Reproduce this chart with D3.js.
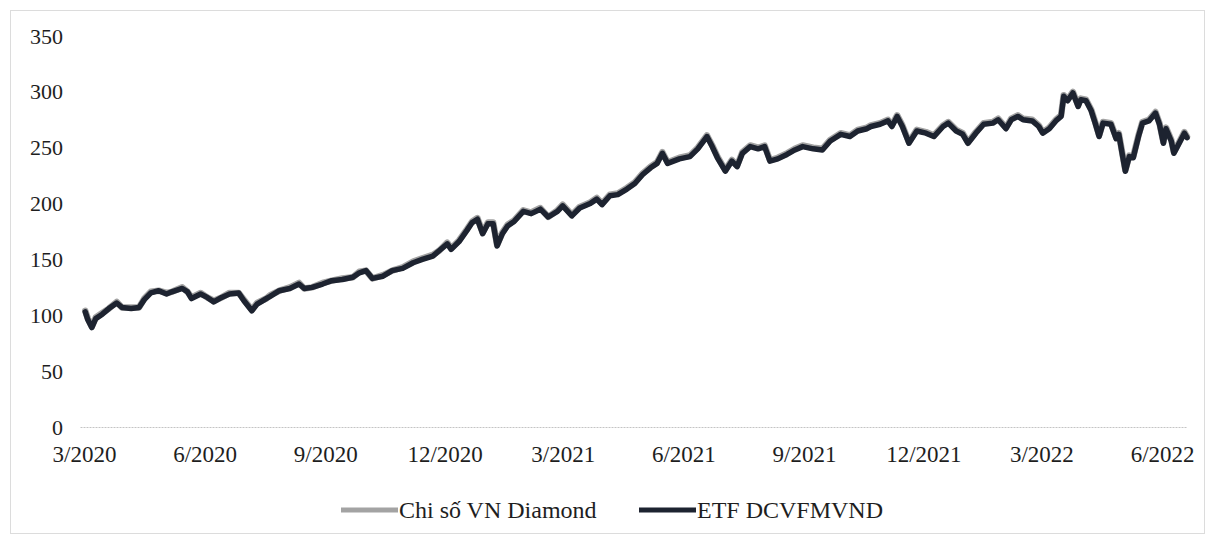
<!DOCTYPE html>
<html>
<head>
<meta charset="utf-8">
<script src="https://cdn.jsdelivr.net/npm/d3@7"></script>
<style>
  body { margin: 0; background: #fff; }
  text { font-family: "Liberation Serif", "Times New Roman", serif; fill: #1e1e1e; }
</style>
</head>
<body>
<div id="chart"></div>
<script>
var dates = ["2020-03-02","2020-03-04","2020-03-07","2020-03-10","2020-03-15","2020-03-20","2020-03-26","2020-03-30",
  "2020-04-06","2020-04-12","2020-04-16","2020-04-21","2020-04-27","2020-05-03","2020-05-07","2020-05-15","2020-05-19",
  "2020-05-22","2020-05-29","2020-06-03","2020-06-08","2020-06-14","2020-06-20","2020-06-27","2020-07-01","2020-07-07",
  "2020-07-11","2020-07-18","2020-07-21","2020-07-28","2020-08-05","2020-08-12","2020-08-16","2020-08-22","2020-08-30",
  "2020-09-06","2020-09-14","2020-09-22","2020-09-27","2020-10-02","2020-10-07","2020-10-15","2020-10-22","2020-10-30",
  "2020-11-07","2020-11-14","2020-11-22","2020-11-27","2020-12-03","2020-12-06","2020-12-12","2020-12-18","2020-12-22",
  "2020-12-26","2020-12-30","2021-01-03","2021-01-07","2021-01-10","2021-01-14","2021-01-18","2021-01-23","2021-01-30",
  "2021-02-05","2021-02-12","2021-02-18","2021-02-25","2021-03-01","2021-03-08","2021-03-14","2021-03-22","2021-03-27",
  "2021-03-31","2021-04-06","2021-04-12","2021-04-19","2021-04-25","2021-05-01","2021-05-07","2021-05-12","2021-05-16",
  "2021-05-20","2021-05-29","2021-06-06","2021-06-12","2021-06-19","2021-06-23","2021-06-27","2021-07-03","2021-07-08",
  "2021-07-12","2021-07-16","2021-07-22","2021-07-28","2021-08-02","2021-08-06","2021-08-12","2021-08-19","2021-08-25",
  "2021-08-31","2021-09-08","2021-09-15","2021-09-21","2021-09-29","2021-10-06","2021-10-12","2021-10-19","2021-10-22",
  "2021-10-29","2021-11-04","2021-11-07","2021-11-11","2021-11-15","2021-11-20","2021-11-26","2021-12-03","2021-12-09",
  "2021-12-16","2021-12-20","2021-12-26","2021-12-31","2022-01-04","2022-01-10","2022-01-16","2022-01-23","2022-01-27",
  "2022-02-02","2022-02-06","2022-02-11","2022-02-15","2022-02-22","2022-02-27","2022-03-02","2022-03-07","2022-03-12",
  "2022-03-16","2022-03-18","2022-03-21","2022-03-25","2022-03-29","2022-03-31","2022-04-04","2022-04-08","2022-04-11",
  "2022-04-14","2022-04-17","2022-04-23","2022-04-27","2022-04-29","2022-05-02","2022-05-04","2022-05-07","2022-05-10",
  "2022-05-14","2022-05-17","2022-05-22","2022-05-27","2022-05-30","2022-06-02","2022-06-04","2022-06-08","2022-06-10",
  "2022-06-14","2022-06-18","2022-06-20"];

// Chi so VN Diamond (grey)
var indexValues = [104,97,90,98,102,106,112,107, 107,107,115,121,122,120,121,125,121,
  116,120,116,113,116,120,120,114,105, 111,115,118,122,125,129,124,125,129,
  131,133,134,139,140,133,136,140,143, 148,151,154,158,165,160,167,177,184,
  187,174,183,183,163,174,181,185,194, 192,196,188,194,199,190,197,201,205,
  200,208,209,214,219,227,233,237,246, 237,241,243,250,261,252,242,230,239,
  234,246,252,250,252,239,241,245,249, 252,250,249,257,263,261,266,268,270,
  272,275,270,279,270,255,266,264,261, 270,273,266,263,255,264,272,273,276,
  268,276,279,276,275,270,264,268,275, 279,297,293,300,288,294,293,284,273,
  261,273,272,259,263,243,230,243,242, 261,273,275,282,272,255,268,257,246,
  255,264,260];

// ETF DCVFMVND (dark)
var etfValues = [103,96,89,97,101,106,111,107, 106,107,114,120,122,119,121,124,121,
  115,119,116,112,116,119,120,113,104, 110,115,117,122,124,128,124,125,128,
  131,132,134,138,140,133,135,140,142, 147,150,153,158,164,159,166,176,183,
  186,173,182,182,162,173,180,184,193, 191,195,188,193,198,189,196,200,204,
  199,207,208,213,218,226,232,236,245, 236,240,242,249,260,251,241,229,238,
  233,245,251,249,251,238,240,244,248, 251,249,248,256,262,260,265,267,269,
  271,274,269,278,269,254,265,263,260, 269,272,265,262,254,263,271,272,275,
  267,275,278,275,274,269,263,267,274, 278,296,292,299,287,293,292,283,272,
  260,272,271,258,262,242,229,242,241, 260,272,274,281,271,254,267,256,245,
  254,263,259];

var yTicks = [0, 50, 100, 150, 200, 250, 300, 350];
var xTickDates = ["2020-03-01","2020-06-01","2020-09-01","2020-12-01","2021-03-01",
  "2021-06-01","2021-09-01","2021-12-01","2022-03-01","2022-06-01"];
var seriesNames = ["Chi số VN Diamond", "ETF DCVFMVND"];
var seriesColors = ["#a3a3a3", "#1d2330"];

var width = 1213, height = 546;
var svg;

function init() {
    svg = d3.select("#chart")
        .append("svg")
        .attr("width", width)
        .attr("height", height);

    // light scan frame
    svg.append("rect")
        .attr("x", 10.5).attr("y", 10.5)
        .attr("width", 1194).attr("height", 523)
        .attr("fill", "none")
        .attr("stroke", "#dcdcdc")
        .attr("stroke-width", 1);

    drawChart();
}

function drawChart() {
    var parse = d3.timeParse("%Y-%m-%d");

    var xScale = d3.scaleTime()
        .domain([parse("2020-02-27"), parse("2022-06-20")])
        .range([80, 1187]);

    var yScale = d3.scaleLinear()
        .domain([0, 350])
        .range([427, 36]);

    // y axis labels
    var yAxis = svg.append("g")
        .attr("transform", "translate(63,0)")
        .call(d3.axisLeft(yScale).tickValues(yTicks).tickSize(0).tickPadding(0));
    yAxis.select(".domain").remove();
    yAxis.selectAll("text")
        .attr("font-size", "22px")
        .style("font-family", "Liberation Serif, serif")
        .attr("fill", "#1e1e1e");

    // x axis: dotted baseline + month labels
    var xAxis = svg.append("g")
        .attr("transform", "translate(0," + yScale(0) + ")")
        .call(d3.axisBottom(xScale)
            .tickValues(xTickDates.map(parse))
            .tickSize(0)
            .tickPadding(19)
            .tickFormat(d3.timeFormat("%-m/%Y")));
    xAxis.select(".domain")
        .attr("stroke", "#c4c4c4")
        .attr("stroke-width", 1.2)
        .attr("stroke-dasharray", "2,1");
    xAxis.selectAll("text")
        .attr("font-size", "23px")
        .attr("dy", "0.71em")
        .style("font-family", "Liberation Serif, serif")
        .attr("fill", "#1e1e1e");

    var line = d3.line()
        .x(function(d) { return xScale(d.date); })
        .y(function(d) { return yScale(d.value); })
        .curve(d3.curveLinear);

    var series = [indexValues, etfValues].map(function(vals) {
        return vals.map(function(v, i) { return { date: parse(dates[i]), value: v }; });
    });

    series.forEach(function(s, i) {
        svg.append("path")
            .datum(s)
            .attr("fill", "none")
            .attr("stroke", seriesColors[i])
            .attr("stroke-width", i === 0 ? 6.5 : 5.5)
            .attr("stroke-linejoin", "round")
            .attr("stroke-linecap", "round")
            .attr("d", line);
    });

    // legend
    var legendX = [341, 639];
    seriesNames.forEach(function(name, i) {
        var g = svg.append("g").attr("transform", "translate(" + legendX[i] + ",510)");
        g.append("line")
            .attr("x1", 0).attr("x2", 57)
            .attr("y1", 0).attr("y2", 0)
            .attr("stroke", seriesColors[i])
            .attr("stroke-width", 5);
        g.append("text")
            .attr("x", 58)
            .attr("y", 0)
            .attr("dy", "0.33em")
            .attr("font-size", "24px")
            .text(name);
    });
}

window.onload = init;
</script>
</body>
</html>
